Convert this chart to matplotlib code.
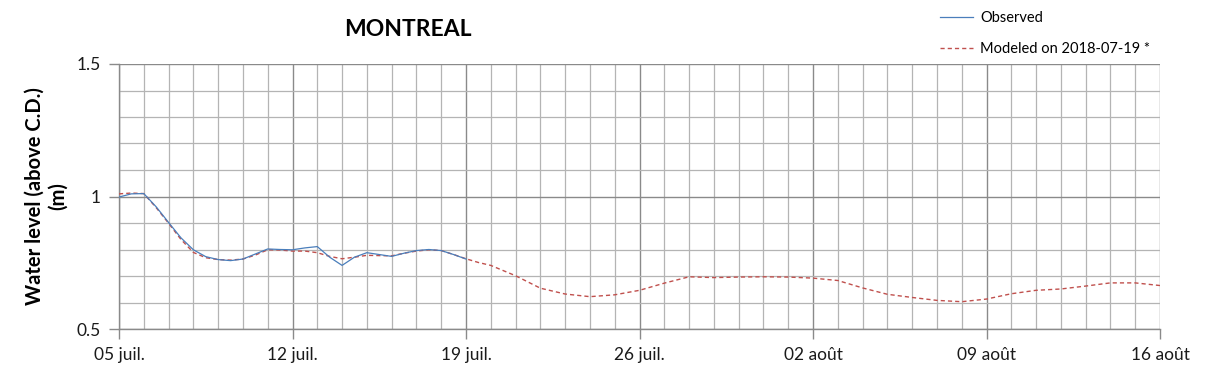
import matplotlib
matplotlib.use("Agg")
import matplotlib.pyplot as plt
from matplotlib.ticker import MultipleLocator

plt.rcParams['font.family'] = ['Lato', 'DejaVu Sans']

# days after 05 juil. 2018
obs_days = [0, 0.5, 1, 1.5, 2, 2.5, 3, 3.5, 4, 4.5, 5, 5.5, 6, 6.5, 7,
            7.5, 8, 8.5, 9, 9.5, 10, 10.5, 11, 11.5, 12, 12.5, 13, 13.5, 14]
obs_vals = [0.998, 1.010, 1.011, 0.961, 0.902, 0.844, 0.799, 0.773, 0.762, 0.758,
            0.764, 0.783, 0.802, 0.800, 0.799, 0.806, 0.811, 0.771, 0.740, 0.771,
            0.788, 0.781, 0.774, 0.786, 0.796, 0.800, 0.796, 0.781, 0.764]

mod_days = [0, 0.5, 1, 1.5, 2, 2.5, 3, 3.5, 4, 4.5, 5, 5.5, 6, 6.5, 7,
            7.5, 8, 8.5, 9, 9.5, 10, 10.5, 11, 11.5, 12, 12.5, 13, 13.5, 14, 14.5,
            15, 16, 17, 18, 19, 20, 21, 22, 23, 24, 25, 26, 27, 28,
            29, 30, 31, 32, 33, 34, 35, 36, 37, 38, 39, 40, 41, 42]
mod_vals = [1.010, 1.013, 1.011, 0.958, 0.899, 0.838, 0.789, 0.769, 0.762, 0.760,
            0.764, 0.779, 0.799, 0.798, 0.794, 0.794, 0.788, 0.774, 0.765, 0.771,
            0.778, 0.777, 0.776, 0.786, 0.794, 0.799, 0.796, 0.781, 0.765, 0.751,
            0.740, 0.701, 0.654, 0.632, 0.622, 0.629, 0.646, 0.673, 0.697, 0.694,
            0.696, 0.697, 0.696, 0.692,
            0.683, 0.655, 0.631, 0.619, 0.608, 0.603, 0.613, 0.633, 0.646, 0.651,
            0.662, 0.674, 0.674, 0.664]

tick_days = [0, 7, 14, 21, 28, 35, 42]
tick_labels = ['05 juil.', '12 juil.', '19 juil.', '26 juil.', '02 août', '09 août', '16 août']

fig = plt.figure(figsize=(12.09, 3.78), dpi=100)
ax = fig.add_axes([119/1209, 1 - 329/378, (1160 - 119)/1209, (329 - 64)/378])

ax.plot(obs_days, obs_vals, color='#4a7ebb', lw=0.9, label='Observed', zorder=4)
ax.plot(mod_days, mod_vals, color='#c0504d', lw=1.0, dashes=(3, 2.2),
        label='Modeled on 2018-07-19 *', zorder=3)

ax.set_xlim(0, 42)
ax.set_ylim(0.5, 1.5)
ax.set_xticks(tick_days)
ax.set_xticklabels(tick_labels)
ax.xaxis.set_minor_locator(MultipleLocator(1))
ax.set_yticks([0.5, 1, 1.5])
ax.set_yticklabels(['0.5', '1', '1.5'])
ax.yaxis.set_minor_locator(MultipleLocator(0.1))

ax.grid(which='minor', color='#b4b4b4', lw=0.9)
ax.grid(which='major', color='#8a8a8a', lw=1.0)
ax.set_axisbelow(True)

for s in ['top', 'right']:
    ax.spines[s].set_visible(False)
for s in ['left', 'bottom']:
    ax.spines[s].set_color('#8a8a8a')
    ax.spines[s].set_linewidth(1.0)

ax.tick_params(which='major', length=7, width=1, color='#8a8a8a',
               labelsize=12.5, labelcolor='#1a1a1a', pad=6)
ax.tick_params(which='minor', length=0)

ax.set_ylabel('Water level (above C.D.)\n(m)', fontsize=14.5, fontweight='bold',
              labelpad=6, linespacing=1.2)

fig.text(408/1209, 1 - 30/378, 'MONTREAL', fontsize=16.5, fontweight='bold',
         ha='center', va='center')

fig.legend(loc='upper left', bbox_to_anchor=(934/1209, 1 - 5/378), frameon=False,
           fontsize=10.5, handlelength=2.3, handletextpad=0.45, labelspacing=1.2,
           borderaxespad=0)

fig.savefig('out.png', dpi=100)
